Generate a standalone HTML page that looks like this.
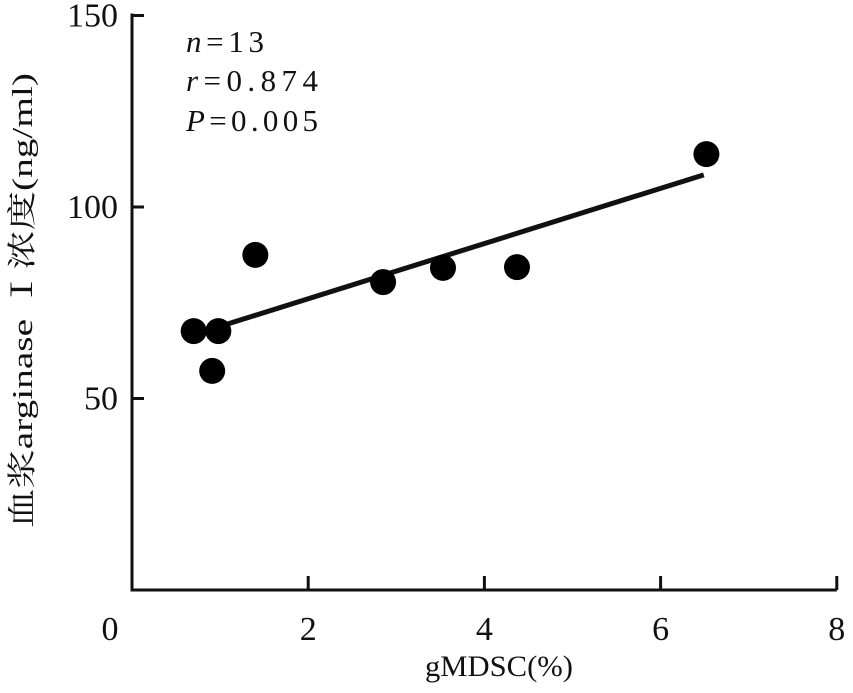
<!DOCTYPE html>
<html><head><meta charset="utf-8"><style>
body{margin:0;background:#fff}
svg text{font-family:"Liberation Serif","Noto Serif CJK SC",serif;fill:#111}
</style></head><body>
<svg width="853" height="688" xmlns="http://www.w3.org/2000/svg">
<g id="axes"></g>
<g id="marks"></g>
<text x="186" y="52" font-size="31" textLength="78" lengthAdjust="spacing"><tspan font-style="italic">n</tspan>=13</text>
<text x="186" y="91" font-size="31" textLength="132" lengthAdjust="spacing"><tspan font-style="italic">r</tspan>=0.874</text>
<text x="186" y="131" font-size="31" textLength="132" lengthAdjust="spacing"><tspan font-style="italic">P</tspan>=0.005</text>
<text x="425" y="676" font-size="30" textLength="148" lengthAdjust="spacingAndGlyphs">gMDSC(%)</text>
<text transform="translate(32,528) rotate(-90)" font-size="29" textLength="455" lengthAdjust="spacingAndGlyphs">血浆arginase Ⅰ浓度(ng/ml)</text>
</svg>
<script>
const xTicks=[0,2,4,6,8];
const yTicks=[50,100,150];
const xVals=[0.70,0.98,0.91,1.40,2.85,3.53,4.37,6.52];
const yVals=[67.6,67.6,57.2,87.5,80.4,84.1,84.3,113.8];
const fitX=[0.98,6.49];
const fitY=[68.7,108.4];
const X=v=>132+v*88.1, Y=v=>590-v*3.83;
const NS="http://www.w3.org/2000/svg";
const axes=document.getElementById('axes'), marks=document.getElementById('marks');
function mk(p,tag,attrs){const e=document.createElementNS(NS,tag);for(const k in attrs)e.setAttribute(k,attrs[k]);p.appendChild(e);return e;}
let a=mk(axes,'path',{d:`M${X(0)},${Y(150)-2}V${Y(0)}H${X(8)}`,fill:'none',stroke:'#111','stroke-width':3});


xTicks.forEach(t=>{
 if(t>0){const l=mk(axes,'line',{x1:X(t),x2:X(t),y1:Y(0),y2:Y(0)-14,stroke:'#111','stroke-width':3});
 
 }
 const tx=mk(axes,'text',{x:t==0?X(t)-22:X(t),y:640,'font-size':34,'text-anchor':'middle'});tx.textContent=t;
 
 
});
yTicks.forEach(t=>{
 const l=mk(axes,'line',{x1:X(0),x2:X(0)+12,y1:Y(t),y2:Y(t),stroke:'#111','stroke-width':3});
 
 
 const tx=mk(axes,'text',{x:118,y:Y(t)+11,'font-size':34,'text-anchor':'end'});tx.textContent=t;
 
 
});
const fl=mk(marks,'line',{x1:X(fitX[0]),y1:Y(fitY[0]),x2:X(fitX[1]),y2:Y(fitY[1]),stroke:'#111','stroke-width':5});


xVals.forEach((v,i)=>{
 const c=mk(marks,'circle',{cx:X(v),cy:Y(yVals[i]),r:13,fill:'#000'});
 
 
});
</script>
</body></html>
